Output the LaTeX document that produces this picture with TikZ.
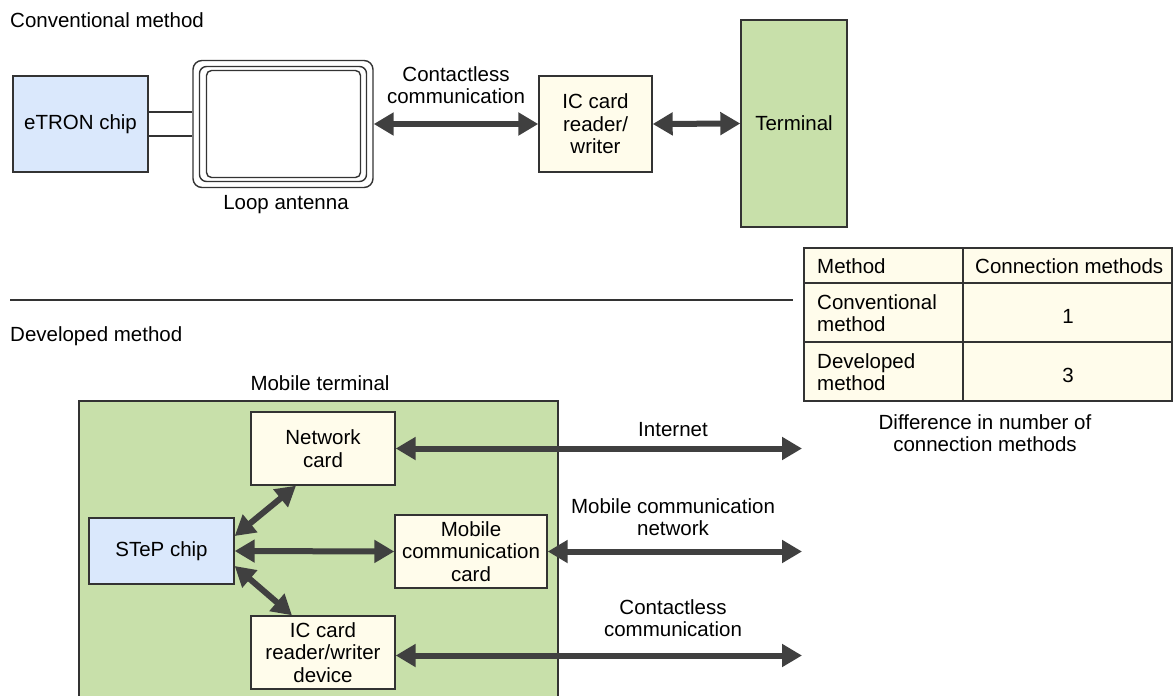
\documentclass[tikz,border=0pt]{standalone}
\usepackage{fontspec}
\setmainfont{Liberation Sans}
\usetikzlibrary{arrows.meta}
\definecolor{chipblue}{HTML}{DAE8FC}
\definecolor{cardcream}{HTML}{FFFCEB}
\definecolor{termgreen}{HTML}{C8E0AA}
\definecolor{edgegray}{HTML}{333333}
\definecolor{linkgray}{HTML}{404040}

\tikzset{
  txt/.style={align=center,inner sep=0pt},
  box/.style={txt,draw=edgegray,line width=1.4pt},
  chipbox/.style={box,fill=chipblue},
  cardbox/.style={box,fill=cardcream},
  termbox/.style={box,fill=termgreen},
  link/.style={linkgray,line width=6pt,{Triangle[length=20pt,width=22pt]}-{Triangle[length=20pt,width=22pt]}},
}

\begin{document}
\begin{tikzpicture}[x=1pt,y=-1pt,font=\fontsize{20.5}{22.5}\selectfont]
  \useasboundingbox (0,0) rectangle (1173,696);
  \node[txt,anchor=west] (convtitle) at (10,20) {Conventional method};
  \node[chipbox,minimum width=135pt,minimum height=96pt] (etron) at (80.5,124) {eTRON chip};
  \node[box,fill=white,rounded corners=9pt,minimum width=180pt,minimum height=127pt] (antenna) at (283,124) {};
  \draw[edgegray,line width=1.4pt,rounded corners=7pt] (199.5,66.5) rectangle (366.5,181.5);
  \draw[edgegray,line width=1.4pt,rounded corners=5pt] (206.5,70.5) rectangle (360.5,177.5);
  \draw[edgegray,line width=1.4pt] ([yshift=12pt]etron.east) -- ([yshift=12pt]antenna.west);
  \draw[edgegray,line width=1.4pt] ([yshift=-12pt]etron.east) -- ([yshift=-12pt]antenna.west);
  \node[txt] (looplbl) at (286,205) {Loop antenna};
  \node[cardbox,minimum width=113pt,minimum height=96pt] (reader) at (595.5,124) {IC card\\reader/\\writer};
  \node[termbox,minimum width=106pt,minimum height=207pt] (terminal) at (794,123.5) {Terminal};
  \draw[link] (antenna.east) -- (reader.west);
  \draw[link] (reader.east) -- (terminal.west);
  \node[txt] (ctl1lbl) at (456,85) {Contactless\\communication};

  \draw[edgegray,line width=1.4pt] (10,300) -- (793,300);

  \fill[cardcream] (804,248) rectangle (1172,401);
  \draw[edgegray,line width=1.4pt] (804,248) rectangle (1172,401);
  \draw[edgegray,line width=1.4pt] (804,283) -- (1172,283);
  \draw[edgegray,line width=1.4pt] (804,342) -- (1172,342);
  \draw[edgegray,line width=1.4pt] (963,248) -- (963,401);
  \node[txt,anchor=west] (hmethod) at (817,266) {Method};
  \node[txt,anchor=west] (hcount) at (975,266) {Connection methods};
  \node[txt,anchor=west,align=left] (rconv) at (817,313) {Conventional\\method};
  \node[txt] (nconv) at (1068,316) {1};
  \node[txt,anchor=west,align=left] (rdev) at (817,372) {Developed\\method};
  \node[txt] (ndev) at (1068,375) {3};
  \node[txt] (tablecap) at (985,433) {Difference in number of\\connection methods};

  \node[txt,anchor=west] (devtitle) at (10,336) {Developed method};
  \node[txt] (mobilelbl) at (320,383) {Mobile terminal};
  \fill[termgreen] (79,700) rectangle (558,401);
  \draw[edgegray,line width=1.4pt] (79,700) |- (558,401) -- (558,700);
  \node[cardbox,minimum width=144pt,minimum height=73pt] (netcard) at (323,448.5) {Network\\card};
  \node[chipbox,minimum width=145pt,minimum height=66pt] (step) at (161.5,551) {STeP chip};
  \node[cardbox,minimum width=152pt,minimum height=73pt] (mobcard) at (471,551.5) {Mobile\\communication\\card};
  \node[cardbox,minimum width=144pt,minimum height=73pt] (icdev) at (323,652.5) {IC card\\reader/writer\\device};
  \draw[link] ([yshift=15pt]step.east) -- ([xshift=-27pt]netcard.south);
  \draw[link] (step.east) -- (mobcard.west);
  \draw[link] ([yshift=-15pt]step.east) -- ([xshift=-31pt]icdev.north);
  \coordinate (outend) at (802,0);
  \draw[link] (netcard.east) -- (netcard.east -| outend);
  \draw[link] (mobcard.east) -- (mobcard.east -| outend);
  \draw[link] ([yshift=-3pt]icdev.east) -- ([yshift=-3pt]icdev.east -| outend);
  \node[txt] (inetlbl) at (673,430) {Internet};
  \node[txt] (mobnetlbl) at (673,517) {Mobile communication\\network};
  \node[txt] (ctl2lbl) at (673,618) {Contactless\\communication};
\end{tikzpicture}
\end{document}
